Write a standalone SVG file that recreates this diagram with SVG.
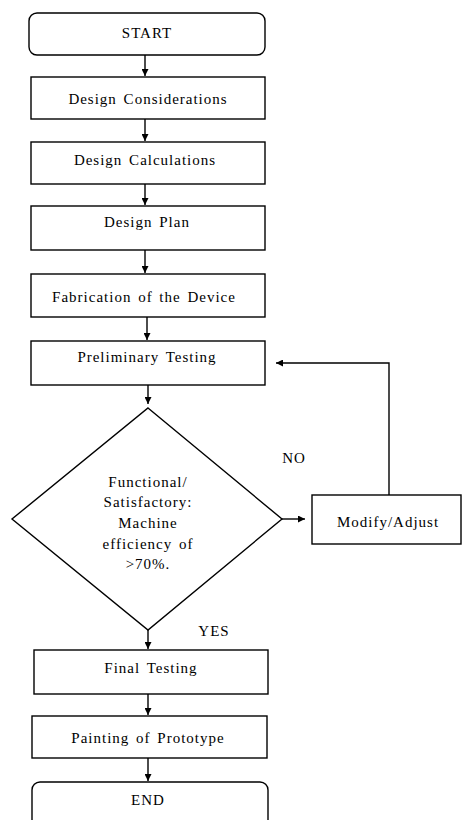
<svg xmlns="http://www.w3.org/2000/svg" width="462" height="820" viewBox="0 0 462 820">
<defs>
<style>
.box{fill:#fff;stroke:#000;stroke-width:1.4}
.t{font-family:"Liberation Serif","Times New Roman",serif;font-size:15px;fill:#000;text-anchor:middle;letter-spacing:1px;word-spacing:2px}
.c{fill:none;stroke:#000;stroke-width:1.4}
</style>
<marker id="ah" viewBox="0 0 10 10" refX="10" refY="5" markerWidth="7" markerHeight="7" markerUnits="userSpaceOnUse" orient="auto">
<path d="M0,0 L10,5 L0,10 z" fill="#000"/>
</marker>
</defs>
<rect width="462" height="820" fill="#fff"/>
<g id="connectors">
<line class="c" x1="145" y1="55" x2="145" y2="76" marker-end="url(#ah)"/>
<line class="c" x1="145" y1="119" x2="145" y2="141" marker-end="url(#ah)"/>
<line class="c" x1="145" y1="184" x2="145" y2="205" marker-end="url(#ah)"/>
<line class="c" x1="145" y1="250" x2="145" y2="273" marker-end="url(#ah)"/>
<line class="c" x1="147" y1="317" x2="147" y2="340" marker-end="url(#ah)"/>
<line class="c" x1="148" y1="385" x2="148" y2="404" marker-end="url(#ah)"/>
<line class="c" x1="282" y1="519" x2="305" y2="519" marker-end="url(#ah)"/>
<polyline class="c" points="389,495 389,363 276,363" marker-end="url(#ah)"/>
<line class="c" x1="148" y1="630" x2="148" y2="649" marker-end="url(#ah)"/>
<line class="c" x1="148" y1="694" x2="148" y2="715" marker-end="url(#ah)"/>
<line class="c" x1="148" y1="758" x2="148" y2="781" marker-end="url(#ah)"/>
<text class="t" x="294" y="463">NO</text>
<text class="t" x="214" y="636">YES</text>
</g>
<g id="start"><rect class="box" x="29" y="13" width="236" height="42" rx="8"/><text class="t" x="147" y="38">START</text></g>
<g id="considerations"><rect class="box" x="31" y="77" width="234" height="42"/><text class="t" x="148" y="104">Design Considerations</text></g>
<g id="calculations"><rect class="box" x="31" y="142" width="234" height="42"/><text class="t" x="145" y="165">Design Calculations</text></g>
<g id="plan"><rect class="box" x="31" y="206" width="234" height="44"/><text class="t" x="147" y="227">Design Plan</text></g>
<g id="fabrication"><rect class="box" x="31" y="274" width="234" height="43"/><text class="t" x="144" y="302">Fabrication of the Device</text></g>
<g id="preliminary"><rect class="box" x="31" y="341" width="234" height="44"/><text class="t" x="147" y="362">Preliminary Testing</text></g>
<g id="decision"><polygon class="box" points="148,408 282,519 148,630 12,519"/>
<text class="t" x="148" y="487">Functional/</text>
<text class="t" x="148" y="507">Satisfactory:</text>
<text class="t" x="148" y="528">Machine</text>
<text class="t" x="148" y="549">efficiency of</text>
<text class="t" x="148" y="569">&gt;70%.</text></g>
<g id="modify"><rect class="box" x="312" y="495" width="149" height="49"/><text class="t" x="388" y="527">Modify/Adjust</text></g>
<g id="final"><rect class="box" x="34" y="650" width="234" height="44"/><text class="t" x="151" y="673">Final Testing</text></g>
<g id="painting"><rect class="box" x="32" y="716" width="235" height="42"/><text class="t" x="148" y="743">Painting of Prototype</text></g>
<g id="end"><rect class="box" x="32" y="782" width="236" height="50" rx="8"/><text class="t" x="148" y="805">END</text></g>
</svg>
